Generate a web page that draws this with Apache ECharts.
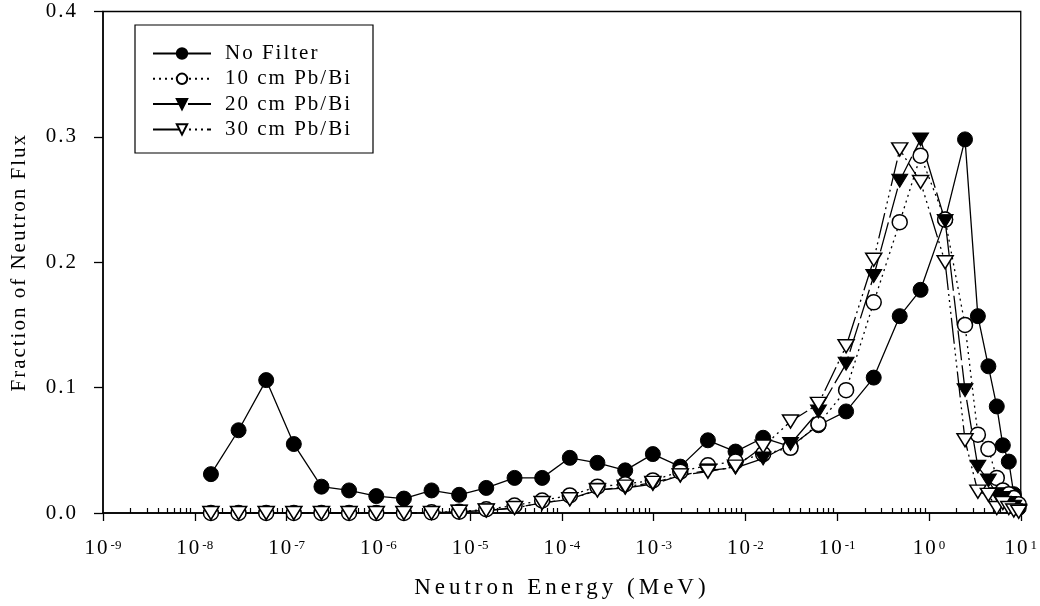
<!DOCTYPE html>
<html>
<head>
<meta charset="utf-8">
<script src="https://cdn.jsdelivr.net/npm/echarts@6/dist/echarts.min.js"></script>
<style>
html, body { margin: 0; padding: 0; background: #fff; }
#chart { width: 1040px; height: 606px; }
</style>
</head>
<body>
<div id="chart"></div>
<script>
// neutron energy (MeV) of each group
const energies = [
	1.5e-8, 3e-8, 6e-8, 1.2e-7, 2.4e-7, 4.8e-7, 9.5e-7, 1.9e-6, 3.8e-6, 7.6e-6,
	1.5e-5, 3.05e-5, 6.1e-5, 1.22e-4, 2.44e-4, 4.9e-4, 9.8e-4, 1.95e-3, 3.9e-3, 7.8e-3,
	1.56e-2, 3.1e-2, 6.25e-2, 0.125, 0.25, 0.48, 0.81, 1.5, 2.47, 3.41,
	4.44, 5.48, 6.38, 7.41, 8.4, 9.5
];
const noFilter = [
	0.031, 0.066, 0.106, 0.055, 0.021, 0.018, 0.0135, 0.0115, 0.018, 0.0145,
	0.020, 0.028, 0.028, 0.044, 0.040, 0.034, 0.047, 0.037, 0.058, 0.049,
	0.060, 0.053, 0.070, 0.081, 0.108, 0.157, 0.178, 0.234, 0.298, 0.157,
	0.117, 0.085, 0.054, 0.041, 0.015, 0.004
];
const tenCm = [
	0, 0, 0, 0, 0, 0, 0, 0, 0.0005, 0.001,
	0.003, 0.006, 0.010, 0.014, 0.021, 0.023, 0.026, 0.033, 0.038, 0.041,
	0.047, 0.052, 0.071, 0.098, 0.168, 0.232, 0.285, 0.234, 0.150, 0.0625,
	0.051, 0.028, 0.018, 0.015, 0.012, 0.007
];
const twentyCm = [
	0, 0, 0, 0, 0, 0, 0, 0, 0, 0.001,
	0.002, 0.004, 0.008, 0.011, 0.0185, 0.020, 0.023, 0.030, 0.034, 0.036,
	0.0435, 0.055, 0.081, 0.119, 0.189, 0.265, 0.298, 0.233, 0.098, 0.037,
	0.026, 0.015, 0.012, 0.008, 0.005, 0.002
];
const thirtyCm = [
	0, 0, 0, 0, 0, 0, 0, 0, 0, 0.001,
	0.002, 0.004, 0.008, 0.011, 0.018, 0.021, 0.024, 0.030, 0.033, 0.037,
	0.053, 0.073, 0.087, 0.133, 0.202, 0.290, 0.264, 0.200, 0.058, 0.017,
	0.0145, 0.004, 0.008, 0.004, 0.002, 0.001
];
const seriesNames = ["No Filter", "10 cm Pb/Bi", "20 cm Pb/Bi", "30 cm Pb/Bi"];
const yTicks = [0, 0.1, 0.2, 0.3, 0.4];
const minorSteps = [2, 3, 4, 5, 6, 7, 8, 9];

const font = "Liberation Serif";

// the original has loosely tracked text; canvas letterSpacing grows with font size
const fontProp = Object.getOwnPropertyDescriptor(CanvasRenderingContext2D.prototype, "font");
Object.defineProperty(CanvasRenderingContext2D.prototype, "font", {
	configurable: true,
	get() {
		return fontProp.get.call(this);
	},
	set(v) {
		fontProp.set.call(this, v);
		const m = /(\d+(?:\.\d+)?)px/.exec(v);
		const size = m ? parseFloat(m[1]) : 12;
		this.letterSpacing = Math.max(0, size - 19) + "px";
	},
});

// log positions of the 2..9 minor ticks of every decade
const minorTicks = [];
for (let d = -9; d < 1; d++) {
	minorSteps.forEach((m) => minorTicks.push(d + Math.log10(m)));
}

const pairs = (vals) => energies.map((e, i) => [e, vals[i]]);

const line = (name, vals, symbol, open, dash) => ({
	name: name,
	type: "line",
	data: pairs(vals),
	symbol: symbol,
	symbolSize: symbol === "circle" ? 15 : [16, 13],
	symbolRotate: symbol === "triangle" ? 180 : 0,
	showAllSymbol: true,
	lineStyle: { color: "#000", width: 1.3, type: dash },
	itemStyle: open
		? { color: "#fff", borderColor: "#000", borderWidth: 1.5 }
		: { color: "#000", borderColor: "#000", borderWidth: 1 },
	emphasis: { disabled: true },
	animation: false,
});

var myChart = echarts.init(document.getElementById("chart"));

var option = {
	animation: false,
	grid: {
		left: 101,
		right: 18,
		top: 10,
		bottom: 91,
		show: true,
		borderColor: "#000",
		borderWidth: 1.3,
	},
	graphic: [
		{
			type: "rect",
			z: 3,
			shape: { x: 135, y: 25, width: 238, height: 128 },
			style: { fill: "#fff", stroke: "#000", lineWidth: 1.2 },
		},
	],
	legend: {
		orient: "vertical",
		left: 147,
		top: 37,
		z: 5,
		itemWidth: 58,
		itemHeight: 13,
		itemGap: 2.3,
		selectedMode: false,
		data: seriesNames,
		textStyle: {
			fontFamily: font,
			fontSize: 21,
			lineHeight: 21,
			color: "#000",
			padding: [0, 0, 0, 9],
		},
	},
	xAxis: [
		{
			type: "log",
			logBase: 10,
			min: 1e-9,
			max: 10,
			splitNumber: 10,
			position: "bottom",
			axisLine: { onZero: false, lineStyle: { color: "#000", width: 1.5 } },
			axisTick: { length: 8, lineStyle: { color: "#000", width: 1.3 } },
			splitLine: { show: false },
			axisLabel: {
				margin: 26,
				color: "#000",
				formatter: (v) => "{b|10}{s|" + Math.round(Math.log10(v)) + "}",
				rich: {
					b: { fontFamily: font, fontSize: 21, lineHeight: 21, color: "#000", verticalAlign: "bottom" },
					s: { fontFamily: font, fontSize: 13, lineHeight: 13, color: "#000", verticalAlign: "top", padding: [0, 0, 0, 1] },
				},
			},
			name: "Neutron Energy (MeV)",
			nameLocation: "middle",
			nameGap: 61,
			nameTextStyle: { fontFamily: font, fontSize: 23, color: "#000" },
		},
		{
			// minor ticks only, in log10 units over the same span
			type: "value",
			min: -9,
			max: 1,
			position: "bottom",
			axisLine: { show: false, onZero: false },
			axisLabel: { show: false },
			splitLine: { show: false },
			axisTick: {
				customValues: minorTicks,
				inside: true,
				length: 5,
				lineStyle: { color: "#000", width: 1.2 },
			},
		},
	],
	yAxis: {
		type: "value",
		min: 0,
		max: 0.4,
		interval: 0.1,
		axisLine: { show: true, onZero: false, lineStyle: { color: "#000", width: 1.5 } },
		axisTick: { show: true, length: 9, lineStyle: { color: "#000", width: 1.3 } },
		splitLine: { show: false },
		axisLabel: {
			margin: 25,
			color: "#000",
			fontFamily: font,
			fontSize: 21,
			customValues: yTicks,
			formatter: (v) => v.toFixed(1),
		},
		name: "Fraction of Neutron Flux",
		nameLocation: "middle",
		nameGap: 72,
		nameTextStyle: { fontFamily: font, fontSize: 21, color: "#000" },
	},
	series: [
		line(seriesNames[0], noFilter, "circle", false, "solid"),
		line(seriesNames[1], tenCm, "circle", true, [2, 4]),
		line(seriesNames[2], twentyCm, "triangle", false, [30, 5]),
		line(seriesNames[3], thirtyCm, "triangle", true, [26, 4, 2, 4, 2, 4, 2, 4, 2, 4]),
	],
};
myChart.setOption(option);
</script>
</body>
</html>
